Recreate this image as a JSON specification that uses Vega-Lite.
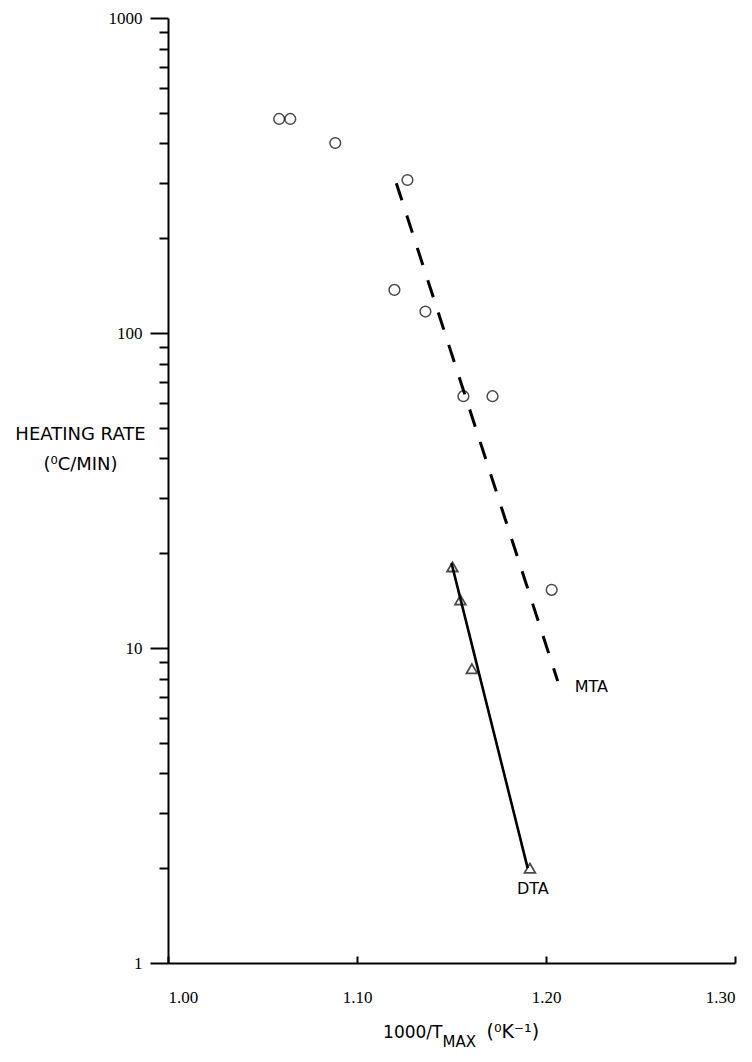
{
  "$schema": "https://vega.github.io/schema/vega-lite/v6.json",
  "width": 567,
  "height": 945,
  "autosize": {"type": "none"},
  "padding": {"left": 168, "top": 18, "right": 17, "bottom": 99},
  "background": "white",
  "config": {
    "view": {"stroke": null},
    "axis": {"grid": false, "domainColor": "black", "tickColor": "black", "labelColor": "black", "titleColor": "black", "domainWidth": 2, "tickWidth": 2}
  },
  "datasets": {
    "mta": [
      {"x": 1.0588, "rate": 478},
      {"x": 1.0647, "rate": 478},
      {"x": 1.0885, "rate": 401},
      {"x": 1.1267, "rate": 306},
      {"x": 1.1198, "rate": 137},
      {"x": 1.1362, "rate": 117},
      {"x": 1.1563, "rate": 63},
      {"x": 1.1717, "rate": 63},
      {"x": 1.2030, "rate": 15.3}
    ],
    "dta": [
      {"x": 1.1505, "rate": 18.1},
      {"x": 1.1547, "rate": 14.2},
      {"x": 1.1608, "rate": 8.6},
      {"x": 1.1915, "rate": 2.0}
    ],
    "mtaFit": [
      {"x": 1.1208, "rate": 299},
      {"x": 1.2062, "rate": 7.85}
    ],
    "dtaFit": [
      {"x": 1.1500, "rate": 18.6},
      {"x": 1.1903, "rate": 2.0}
    ],
    "labels": [
      {"x": 1.224, "rate": 7.5, "text": "MTA"},
      {"x": 1.193, "rate": 1.72, "text": "DTA"}
    ]
  },
  "resolve": {"axis": {"x": "independent"}},
  "encoding": {
    "y": {
      "field": "rate", "type": "quantitative",
      "scale": {"type": "log", "domain": [1, 1000], "nice": false},
      "axis": {
        "values": [1,2,3,4,5,6,7,8,9,10,20,30,40,50,60,70,80,90,100,200,300,400,500,600,700,800,900,1000],
        "labelExpr": "indexof([1,10,100,1000], datum.value) >= 0 ? format(datum.value, 'd') : ''",
        "tickSize": {"condition": {"test": "indexof([1,10,100,1000], datum.value) >= 0", "value": 18}, "value": 9},
        "labelPadding": 8,
        "labelFont": "Liberation Serif", "labelFontSize": 17,
        "title": ["HEATING RATE", "(⁰C/MIN)"],
        "titleAngle": 0, "titleAlign": "center", "titleBaseline": "top",
        "titleX": -88, "titleY": 407, "titleLineHeight": 30,
        "titleFont": "DejaVu Sans", "titleFontSize": 18, "titleFontWeight": "normal"
      }
    }
  },
  "layer": [
    {
      "data": {"name": "mtaFit"},
      "mark": {"type": "line", "color": "black", "strokeWidth": 3, "strokeDash": [18, 16]},
      "encoding": {
        "x": {
          "field": "x", "type": "quantitative",
          "scale": {"domain": [1.0, 1.3], "nice": false, "zero": false},
          "axis": {"orient": "bottom", "domain": false, "ticks": false, "labels": false,
            "title": "MAX", "titleX": 274, "titleY": 83, "titleAlign": "left", "titleBaseline": "alphabetic",
            "titleFont": "DejaVu Sans", "titleFontSize": 15, "titleFontWeight": "normal"}
        }
      }
    },
    {
      "data": {"name": "dtaFit"},
      "mark": {"type": "line", "color": "black", "strokeWidth": 2.6},
      "encoding": {
        "x": {
          "field": "x", "type": "quantitative",
          "scale": {"domain": [1.0, 1.3], "nice": false, "zero": false},
          "axis": {"orient": "bottom", "domain": false, "ticks": false, "labels": false,
            "title": "(⁰K⁻¹)", "titleX": 318, "titleY": 74, "titleAlign": "left", "titleBaseline": "alphabetic",
            "titleFont": "DejaVu Sans", "titleFontSize": 19, "titleFontWeight": "normal"}
        }
      }
    },
    {
      "data": {"name": "mta"},
      "mark": {"type": "point", "shape": "circle", "filled": false, "color": "black", "size": 115, "strokeWidth": 1.5},
      "encoding": {
        "x": {
          "field": "x", "type": "quantitative",
          "scale": {"domain": [1.0, 1.3], "nice": false, "zero": false},
          "axis": {
            "orient": "bottom",
            "values": [1.0, 1.1, 1.2, 1.3], "format": ".2f",
            "tickSize": -7, "labelPadding": 33,
            "labelFont": "Liberation Serif", "labelFontSize": 17,
            "title": "1000/T", "titleX": 274, "titleY": 74, "titleAlign": "right", "titleBaseline": "alphabetic",
            "titleFont": "DejaVu Sans", "titleFontSize": 17, "titleFontWeight": "normal"
          }
        }
      }
    },
    {
      "data": {"name": "dta"},
      "mark": {"type": "point", "shape": "triangle-up", "filled": false, "color": "black", "size": 115, "strokeWidth": 1.8},
      "encoding": {
        "x": {"field": "x", "type": "quantitative", "scale": {"domain": [1.0, 1.3], "nice": false, "zero": false}, "axis": null}
      }
    },
    {
      "data": {"name": "labels"},
      "mark": {"type": "text", "font": "DejaVu Sans", "fontSize": 16, "color": "black", "align": "center", "baseline": "middle"},
      "encoding": {
        "x": {"field": "x", "type": "quantitative", "scale": {"domain": [1.0, 1.3], "nice": false, "zero": false}, "axis": null},
        "text": {"field": "text"}
      }
    }
  ]
}
